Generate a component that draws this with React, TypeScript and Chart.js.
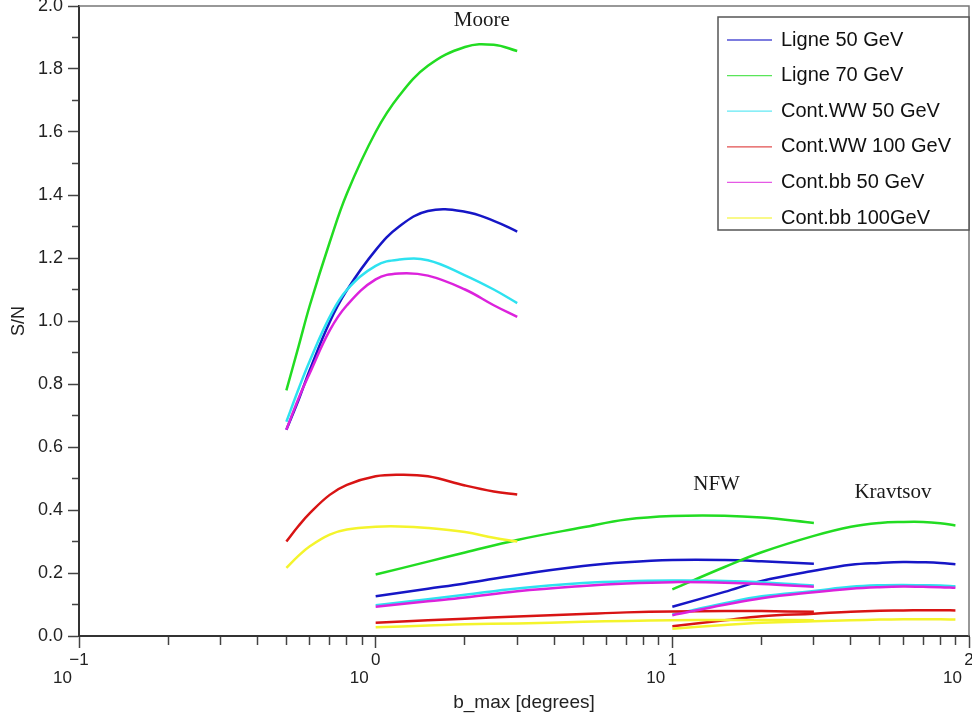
import { useEffect, useRef } from "react";
import { Chart, registerables } from "chart.js";

Chart.register(...registerables);

// ---- series (legend order) ----
const seriesNames = [
  "Ligne 50 GeV",
  "Ligne 70 GeV",
  "Cont.WW 50 GeV",
  "Cont.WW 100 GeV",
  "Cont.bb 50 GeV",
  "Cont.bb 100GeV",
];
const seriesColors = ["#1616c6", "#22dc22", "#2ee2f0", "#d81414", "#dc22dc", "#f4f42c"];

// ---- halo profiles ----
const profileNames = ["Moore", "NFW", "Kravtsov"];
const profileLabelX = [2.28, 14.1, 55.4];
const profileLabelY = [1.955, 0.482, 0.455];

// ---- x samples (b_max in degrees) ----
const mooreX = [0.5, 0.55, 0.6, 0.7, 0.8, 1, 1.2, 1.5, 2, 2.5, 3];
const nfwX = [1, 1.5, 2, 3, 5, 7, 10, 15, 20, 30];
const kravX = [10, 15, 20, 30, 40, 50, 60, 70, 80, 90];

// ---- Moore ----
const ligne50Moore = [0.655, 0.75, 0.845, 0.997, 1.098, 1.225, 1.3, 1.349, 1.347, 1.318, 1.284];
const ligne70Moore = [0.78, 0.92, 1.05, 1.25, 1.405, 1.6, 1.715, 1.81, 1.87, 1.877, 1.857];
const contWW50Moore = [0.68, 0.785, 0.874, 1.013, 1.099, 1.175, 1.195, 1.193, 1.145, 1.1, 1.057];
const contWW100Moore = [0.3, 0.35, 0.39, 0.448, 0.48, 0.507, 0.512, 0.507, 0.478, 0.459, 0.449];
const contBB50Moore = [0.655, 0.755, 0.835, 0.97, 1.05, 1.132, 1.151, 1.144, 1.1, 1.05, 1.013];
const contBB100Moore = [0.216, 0.255, 0.285, 0.322, 0.338, 0.347, 0.348, 0.343, 0.33, 0.312, 0.3];

// ---- NFW ----
const ligne50NFW = [0.126, 0.15, 0.167, 0.194, 0.222, 0.234, 0.241, 0.241, 0.237, 0.229];
const ligne70NFW = [0.195, 0.236, 0.265, 0.305, 0.345, 0.37, 0.381, 0.382, 0.376, 0.359];
const contWW50NFW = [0.098, 0.117, 0.131, 0.151, 0.168, 0.174, 0.176, 0.175, 0.171, 0.16];
const contWW100NFW = [0.042, 0.05, 0.055, 0.062, 0.07, 0.075, 0.078, 0.079, 0.079, 0.077];
const contBB50NFW = [0.093, 0.11, 0.122, 0.142, 0.159, 0.167, 0.171, 0.169, 0.165, 0.156];
const contBB100NFW = [0.028, 0.033, 0.037, 0.04, 0.045, 0.048, 0.05, 0.051, 0.051, 0.05];

// ---- Kravtsov ----
const ligne50Krav = [0.093, 0.14, 0.175, 0.207, 0.226, 0.232, 0.235, 0.234, 0.232, 0.228];
const ligne70Krav = [0.148, 0.219, 0.266, 0.318, 0.347, 0.359, 0.362, 0.362, 0.358, 0.351];
const contWW50Krav = [0.068, 0.104, 0.126, 0.143, 0.156, 0.161, 0.162, 0.161, 0.16, 0.158];
const contWW100Krav = [0.031, 0.05, 0.063, 0.071, 0.077, 0.08, 0.081, 0.082, 0.082, 0.081];
const contBB50Krav = [0.066, 0.099, 0.12, 0.139, 0.15, 0.155, 0.157, 0.156, 0.155, 0.153];
const contBB100Krav = [0.023, 0.035, 0.042, 0.047, 0.05, 0.052, 0.053, 0.053, 0.053, 0.052];

// ---- axes ----
const xMajorTicks = [0.1, 1, 10, 100];
const xExponentLabels = ["\u22121", "0", "1", "2"];
const xTitle = "b_max [degrees]";
const yTitle = "S/N";

const SANS = "'Liberation Sans', Arial, Helvetica, sans-serif";
const SERIF = "'Liberation Serif', 'Times New Roman', serif";

function isMajorX(v: number) {
  const e = Math.log10(v);
  return Math.abs(e - Math.round(e)) < 1e-6;
}

function buildXTicks() {
  const out: number[] = [];
  for (let d = 0; d < xMajorTicks.length - 1; d++) {
    for (let m = 1; m <= 9; m++) out.push(xMajorTicks[d] * m);
  }
  out.push(xMajorTicks[xMajorTicks.length - 1]);
  return out;
}

const framePlugin = {
  id: "frame",
  afterDraw(chart: any) {
    const { ctx, chartArea: a } = chart;
    ctx.save();
    ctx.strokeStyle = "#777";
    ctx.lineWidth = 1.5;
    ctx.beginPath();
    ctx.moveTo(a.left, a.top);
    ctx.lineTo(a.right, a.top);
    ctx.lineTo(a.right, a.bottom);
    ctx.stroke();
    ctx.restore();
  },
};

const labelPlugin = {
  id: "profileLabels",
  afterDatasetsDraw(chart: any) {
    const { ctx, scales } = chart;
    ctx.save();
    ctx.fillStyle = "#1a1a1a";
    ctx.font = `21px ${SERIF}`;
    ctx.textAlign = "center";
    ctx.textBaseline = "middle";
    profileNames.forEach((name, i) => {
      ctx.fillText(name, scales.x.getPixelForValue(profileLabelX[i]), scales.y.getPixelForValue(profileLabelY[i]));
    });
    ctx.restore();
  },
};

const legendPlugin = {
  id: "boxLegend",
  afterDraw(chart: any) {
    const { ctx, chartArea: a } = chart;
    const w = 251;
    const left = a.right - w;
    const top = a.top + 11;
    const h = 213;
    ctx.save();
    ctx.fillStyle = "#ffffff";
    ctx.fillRect(left, top, w, h);
    ctx.strokeStyle = "#555";
    ctx.lineWidth = 1.5;
    ctx.strokeRect(left, top, w, h);
    ctx.font = `20px ${SANS}`;
    ctx.textAlign = "left";
    ctx.textBaseline = "middle";
    seriesNames.forEach((name, i) => {
      const y = top + 23 + i * 35.6;
      ctx.strokeStyle = seriesColors[i];
      ctx.globalAlpha = 0.75;
      ctx.lineWidth = 1.3;
      ctx.beginPath();
      ctx.moveTo(left + 9, y);
      ctx.lineTo(left + 54, y);
      ctx.stroke();
      ctx.globalAlpha = 1;
      ctx.fillStyle = "#111";
      ctx.fillText(name, left + 63, y);
    });
    ctx.restore();
  },
};

export default function App() {
  const ref = useRef<HTMLCanvasElement>(null);

  useEffect(() => {
    const canvas = ref.current;
    if (!canvas) return;
    const groups = [
      { x: mooreX, ys: [ligne50Moore, ligne70Moore, contWW50Moore, contWW100Moore, contBB50Moore, contBB100Moore] },
      { x: nfwX, ys: [ligne50NFW, ligne70NFW, contWW50NFW, contWW100NFW, contBB50NFW, contBB100NFW] },
      { x: kravX, ys: [ligne50Krav, ligne70Krav, contWW50Krav, contWW100Krav, contBB50Krav, contBB100Krav] },
    ];
    const datasets: any[] = [];
    seriesNames.forEach((name, si) => {
      groups.forEach((g, gi) => {
        datasets.push({
          label: `${name} (${profileNames[gi]})`,
          data: g.x.map((x, i) => ({ x, y: g.ys[si][i] })),
          borderColor: seriesColors[si],
          backgroundColor: seriesColors[si],
          borderWidth: 2.5,
          pointRadius: 0,
          pointHoverRadius: 0,
          tension: 0.4,
          fill: false,
          order: seriesNames.length - si,
        });
      });
    });

    const xTickValues = buildXTicks();

    const chart = new Chart(canvas, {
      type: "line",
      data: { datasets },
      options: {
        animation: false,
        responsive: false,
        layout: { padding: { top: 6, right: 3, left: 0, bottom: 0 } },
        plugins: {
          legend: { display: false },
          tooltip: { enabled: false },
        },
        scales: {
          x: {
            type: "logarithmic",
            position: "bottom",
            min: 0.1,
            max: 100,
            afterBuildTicks: (s: any) => {
              s.ticks = xTickValues.map((v) => ({ value: v }));
            },
            afterFit: (s: any) => {
              s.height = 77;
              s.paddingLeft = 0;
              s.paddingRight = 0;
            },
            ticks: {
              autoSkip: false,
              maxRotation: 0,
              minRotation: 0,
              padding: 3,
              color: "#222",
              font: { family: SANS, size: 17, lineHeight: 1.09 },
              callback: (value: any) => {
                const v = Number(value);
                if (!isMajorX(v)) return "";
                const idx = xMajorTicks.findIndex((m) => Math.abs(Math.log10(m) - Math.log10(v)) < 1e-6);
                return [xExponentLabels[idx], "10       "];
              },
            },
            grid: {
              drawOnChartArea: false,
              drawTicks: true,
              tickLength: 12,
              tickColor: "#444",
              tickWidth: 1.5,
              tickBorderDash: (ctx: any) => (ctx.tick && !isMajorX(ctx.tick.value) ? [8, 100] : []),
            },
            border: { color: "#333", width: 2 },
            title: {
              display: true,
              text: xTitle,
              color: "#222",
              font: { family: SANS, size: 19, lineHeight: 1.0 },
              padding: { top: 0, bottom: 1 },
            },
          } as any,
          y: {
            type: "linear",
            min: 0,
            max: 2,
            afterFit: (s: any) => {
              s.width = 79;
              s.paddingTop = 0;
              s.paddingBottom = 0;
            },
            ticks: {
              stepSize: 0.1,
              autoSkip: false,
              padding: 5,
              color: "#222",
              font: { family: SANS, size: 18 },
              callback: (value: any) => {
                const k = Math.round(Number(value) * 10);
                return k % 2 === 0 ? (k / 10).toFixed(1) : "";
              },
            },
            grid: {
              drawOnChartArea: false,
              drawTicks: true,
              tickLength: 11,
              tickColor: "#444",
              tickWidth: 1.5,
              tickBorderDash: (ctx: any) =>
                ctx.tick && Math.round(ctx.tick.value * 10) % 2 !== 0 ? [0, 4, 7, 100] : [],
            },
            border: { color: "#333", width: 2 },
            title: {
              display: true,
              text: yTitle,
              color: "#222",
              font: { family: SANS, size: 18 },
              padding: { top: 8, bottom: 0 },
            },
          } as any,
        },
      },
      plugins: [framePlugin, labelPlugin, legendPlugin],
    } as any);

    return () => chart.destroy();
  }, []);

  return (
    <div style={{ position: "absolute", left: 0, top: 0, width: 972, height: 713, background: "#fff" }}>
      <canvas ref={ref} width={972} height={713} style={{ display: "block", width: 972, height: 713 }} />
    </div>
  );
}
